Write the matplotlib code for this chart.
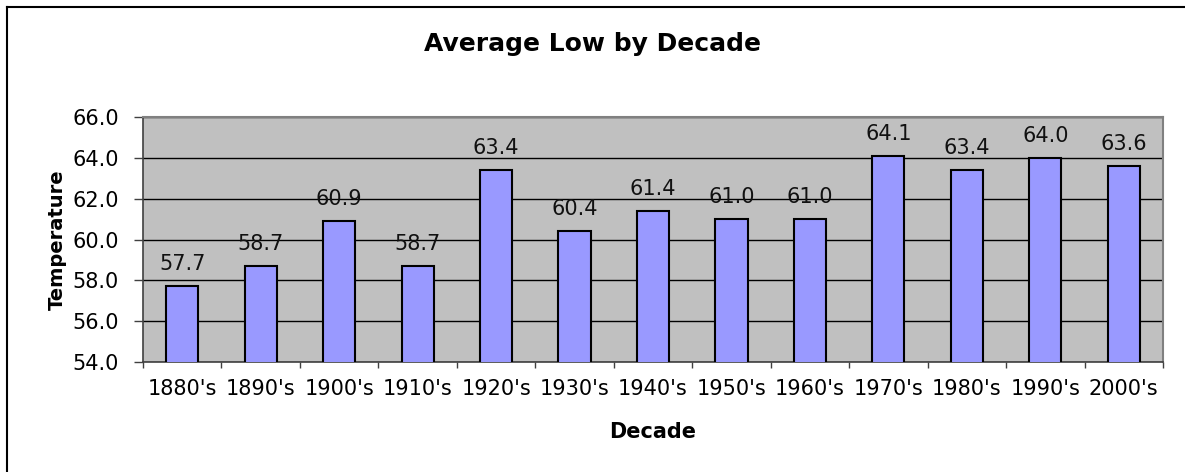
import numpy as np
import matplotlib
matplotlib.use("Agg")
import matplotlib.pyplot as plt
from matplotlib.lines import Line2D

decades = ["1880's", "1890's", "1900's", "1910's", "1920's", "1930's", "1940's",
           "1950's", "1960's", "1970's", "1980's", "1990's", "2000's"]
avg_low = [57.7, 58.7, 60.9, 58.7, 63.4, 60.4, 61.4, 61.0, 61.0, 64.1, 63.4, 64.0, 63.6]
y_ticks = [54.0, 56.0, 58.0, 60.0, 62.0, 64.0, 66.0]

# the reference text is wide (horizontally stretched Arial), DejaVu is closest
plt.rcParams["font.family"] = ["DejaVu Sans"]

W, H = 1185, 472
fig = plt.figure(figsize=(W / 100, H / 100), dpi=100)
# plot area in pixels: left 143, right 1163, top 117, bottom 362
ax = fig.add_axes([143 / W, 1 - 362 / H, (1163 - 143) / W, (362 - 117) / H])
ax.set_facecolor("#C0C0C0")

x = np.arange(len(decades))
ax.bar(x, avg_low, width=0.41, bottom=0, color="#9999FF",
       edgecolor="black", linewidth=1.5, zorder=3)
for xi, v in zip(x, avg_low):
    ax.text(xi, v + 0.6, f"{v:.1f}", ha="center", va="bottom",
            fontsize=15, color="#111111", zorder=4)

ax.set_xlim(-0.5, len(decades) - 0.5)
ax.set_ylim(54.0, 66.0)
ax.set_yticks(y_ticks)
ax.set_yticklabels([f"{t:.1f}" for t in y_ticks])
ax.yaxis.grid(True, color="black", linewidth=1.0, zorder=1)
ax.set_axisbelow(True)

# category labels centred, tick marks on category boundaries
ax.set_xticks(x)
ax.set_xticklabels(decades)
ax.set_xticks(np.arange(-0.5, len(decades)), minor=True)
ax.tick_params(axis="x", which="major", length=0, pad=12, labelsize=15)
ax.tick_params(axis="x", which="minor", length=4.5, width=1, color="#404040",
               direction="out")
ax.tick_params(axis="y", length=6.5, width=1, color="#404040", pad=11,
               labelsize=15)

for side in ["left", "bottom"]:
    ax.spines[side].set_color("#404040")
    ax.spines[side].set_linewidth(1.2)
for side in ["top", "right"]:
    ax.spines[side].set_color("#808080")
    ax.spines[side].set_linewidth(1.5)

ax.set_xlabel("Decade", fontsize=15, fontweight="bold")
ax.xaxis.set_label_coords(0.5, -0.245)
ax.set_ylabel("Temperature", fontsize=14, fontweight="bold", labelpad=4)
fig.suptitle("Average Low by Decade", fontsize=18, fontweight="bold",
             y=1 - 44 / H, va="center")

# chart frame: only top and left edges are visible in the crop
fig.add_artist(Line2D([7 / W, 1.0], [1 - 7 / H, 1 - 7 / H],
                      color="black", linewidth=1.5))
fig.add_artist(Line2D([7 / W, 7 / W], [0.0, 1 - 7 / H],
                      color="black", linewidth=1.5))

fig.savefig("out.png", dpi=100)
